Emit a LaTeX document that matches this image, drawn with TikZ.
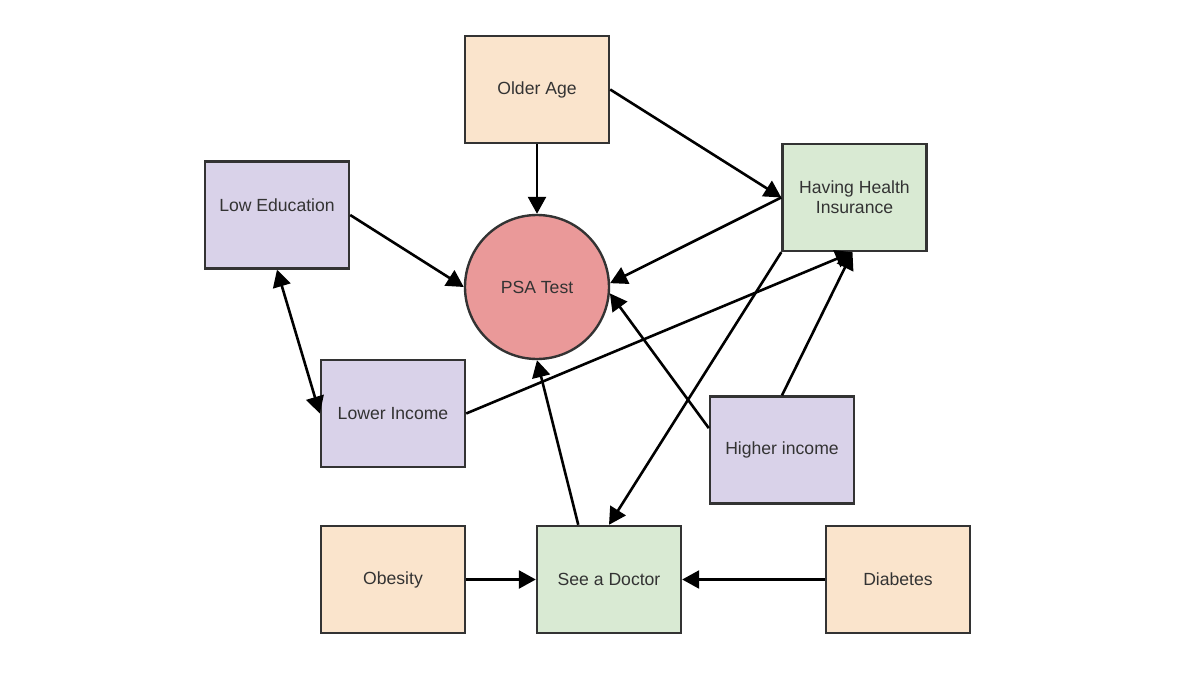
\documentclass[tikz,border=0pt]{standalone}
\usepackage{fontspec}
\setmainfont{Liberation Sans}
\usetikzlibrary{arrows.meta,calc}
\definecolor{peach}{HTML}{FAE4CC}
\definecolor{mint}{HTML}{D9EAD3}
\definecolor{lav}{HTML}{D9D2E9}
\definecolor{rose}{HTML}{EA9999}
\definecolor{edge}{HTML}{333333}
\definecolor{txt}{HTML}{333333}
\tikzset{
  box/.style={draw=edge, line width=1.2pt, minimum width=72pt, minimum height=53.5pt, inner sep=0pt,
    text=txt, font=\fontsize{8.8}{10}\selectfont, align=center},
  peachbox/.style={box, fill=peach},
  mintbox/.style={box, fill=mint},
  lavbox/.style={box, fill=lav},
  lbl/.style={text=txt, font=\fontsize{8.8}{10}\selectfont},
  conn/.style={-{Triangle[length=8.5pt,width=9pt]}, line width=1.3pt, black},
  bconn/.style={{Triangle[length=8.5pt,width=9pt]}-{Triangle[length=8.5pt,width=9pt]}, line width=1.3pt, black}
}
\begin{document}
\begin{tikzpicture}[x=0.5pt,y=-0.5pt]
\useasboundingbox (0,0) rectangle (1200,675);
\fill[white] (0,0) rectangle (1200,675);
\node[peachbox] (oa) at (537,89.5) {Older Age};
\node[mintbox] (hhi) at (854.5,197.5) {Having Health\\Insurance};
\node[lavbox, label={[lbl,yshift=5pt]center:Low Education}] (le) at (277,215) {};
\node[draw=edge, line width=1.2pt, fill=rose, circle, minimum size=72pt, inner sep=0pt, text=txt, font=\fontsize{8.8}{10}\selectfont] (psa) at (537,287) {PSA Test};
\node[lavbox] (li) at (393,413.5) {Lower Income};
\node[lavbox] (hi) at (782,450) {Higher income};
\node[peachbox] (ob) at (393,579.5) {Obesity};
\node[mintbox] (sd) at (609,579.5) {See a Doctor};
\node[peachbox] (di) at (898,579.5) {Diabetes};

\coordinate (hhib) at ($(hhi.south)+(-2,0)$);
\coordinate (hiw) at ($(hi.north west)!0.3!(hi.south west)$);
\coordinate (sdn) at ($(sd.north west)!0.29!(sd.north east)$);

\draw[conn] (oa.south) -- (psa.north);
\draw[conn] (oa.east) -- (hhi.west);
\draw[conn] (le.east) -- (psa.180);
\draw[conn] (hhi.west) -- (psa.3);
\draw[conn] (li.east) -- (hhib);
\draw[conn] (hi.north) -- (hhib);
\draw[conn] (hiw) -- (psa.-5);
\draw[conn] (hhi.south west) -- (sd.north);
\draw[conn] (sdn) -- (psa.south);
\draw[bconn] (le.south) -- (li.west);
\draw[conn] (ob.east) -- (sd.west);
\draw[conn] (di.west) -- (sd.east);
\end{tikzpicture}
\end{document}
